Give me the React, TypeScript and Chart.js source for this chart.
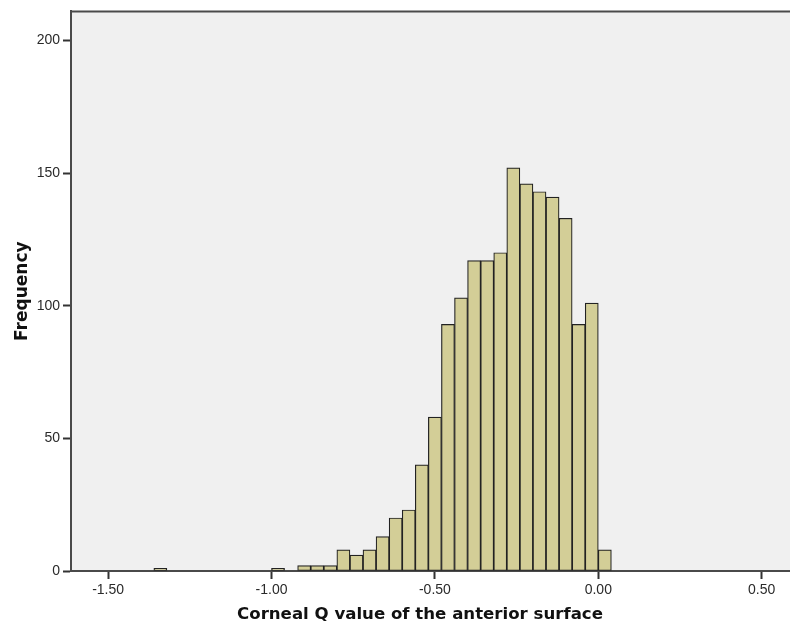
import React, { useEffect, useRef } from "react";
import { Chart, registerables } from "chart.js";

Chart.register(...registerables);

// Histogram bin centres (bin width 0.04)
const binCenters: number[] = [
  -1.34, -1.3, -1.26, -1.22, -1.18, -1.14, -1.1, -1.06, -1.02, -0.98, -0.94,
  -0.9, -0.86, -0.82, -0.78, -0.74, -0.7, -0.66, -0.62, -0.58, -0.54, -0.5,
  -0.46, -0.42, -0.38, -0.34, -0.3, -0.26, -0.22, -0.18, -0.14, -0.1, -0.06,
  -0.02, 0.02,
];
const frequencies: number[] = [
  1, 0, 0, 0, 0, 0, 0, 0, 0, 1, 0, 2, 2, 2, 8, 6, 8, 13, 20, 23, 40, 58, 93,
  103, 117, 117, 120, 152, 146, 143, 141, 133, 93, 101, 8,
];
const xTicks: number[] = [-1.5, -1.0, -0.5, 0.0, 0.5];
const yTicks: number[] = [0, 50, 100, 150, 200];
const xTitle = "Corneal Q value of the anterior surface";
const yTitle = "Frequency";

const titleFont = "bold 16.6px 'DejaVu Sans', Verdana, sans-serif";

const plotBackground = {
  id: "plotBackground",
  beforeDraw(chart: any) {
    const { ctx, chartArea } = chart;
    ctx.save();
    ctx.fillStyle = "#f0f0f0";
    ctx.fillRect(
      chartArea.left,
      chartArea.top,
      chartArea.right - chartArea.left,
      chartArea.bottom - chartArea.top
    );
    ctx.restore();
  },
  afterDraw(chart: any) {
    const { ctx, chartArea } = chart;
    ctx.save();
    ctx.strokeStyle = "#4a4a4a";
    ctx.lineWidth = 2;
    ctx.beginPath();
    ctx.moveTo(chartArea.left - 1, chartArea.top);
    ctx.lineTo(chartArea.right, chartArea.top);
    ctx.stroke();
    // x-axis title, centred as in the original layout
    ctx.fillStyle = "#111111";
    ctx.font = titleFont;
    ctx.textAlign = "center";
    ctx.textBaseline = "middle";
    ctx.fillText(xTitle, 420, 615);
    ctx.restore();
  },
};

export default function App() {
  const ref = useRef<HTMLCanvasElement | null>(null);

  useEffect(() => {
    document.body.style.margin = "0";
    const canvas = ref.current;
    if (!canvas) return;
    const chart = new Chart(canvas, {
      type: "bar",
      data: {
        datasets: [
          {
            data: binCenters.map((x, i) => ({ x, y: frequencies[i] })),
            backgroundColor: "#d3ce97",
            borderColor: "#222222",
            borderWidth: 1.2,
            barPercentage: 1,
            categoryPercentage: 1,
            borderSkipped: false,
          } as any,
        ],
      },
      options: {
        animation: false,
        responsive: false,
        devicePixelRatio: 1,
        layout: { padding: { top: 7, right: 0, left: 0, bottom: 0 } },
        plugins: {
          legend: { display: false },
          tooltip: { enabled: false },
        },
        scales: {
          x: {
            type: "linear",
            min: -1.6135,
            max: 0.5866,
            offset: false,
            grid: {
              display: true,
              drawOnChartArea: false,
              drawTicks: true,
              tickLength: 8,
              tickWidth: 2,
              tickColor: "#333333",
              offset: false,
            },
            border: { display: true, color: "#4a4a4a", width: 2 },
            afterBuildTicks: (scale: any) => {
              scale.ticks = xTicks.map((v) => ({ value: v }));
            },
            afterFit: (scale: any) => {
              scale.height = 57;
            },
            ticks: {
              padding: 3,
              color: "#2a2a2a",
              font: { family: "'Liberation Sans', Arial, sans-serif", size: 14 },
              callback: (v: any) => Number(v).toFixed(2),
            },
            title: { display: false, text: xTitle },
          } as any,
          y: {
            type: "linear",
            min: 0,
            max: 211,
            grid: {
              display: true,
              drawOnChartArea: false,
              drawTicks: true,
              tickLength: 8,
              tickWidth: 2,
              tickColor: "#333333",
            },
            border: { display: true, color: "#4a4a4a", width: 2 },
            afterBuildTicks: (scale: any) => {
              scale.ticks = yTicks.map((v) => ({ value: v }));
            },
            afterFit: (scale: any) => {
              scale.width = 71;
            },
            ticks: {
              padding: 3,
              color: "#2a2a2a",
              font: { family: "'Liberation Sans', Arial, sans-serif", size: 14 },
            },
            title: {
              display: true,
              text: yTitle,
              color: "#111111",
              font: { family: "'DejaVu Sans', Verdana, sans-serif", size: 17, weight: "bold" },
              padding: { top: 12, bottom: 0 },
            },
          } as any,
        },
      },
      plugins: [plotBackground],
    });
    return () => chart.destroy();
  }, []);

  return <canvas ref={ref} width={790} height={628} style={{ display: "block" }} />;
}
